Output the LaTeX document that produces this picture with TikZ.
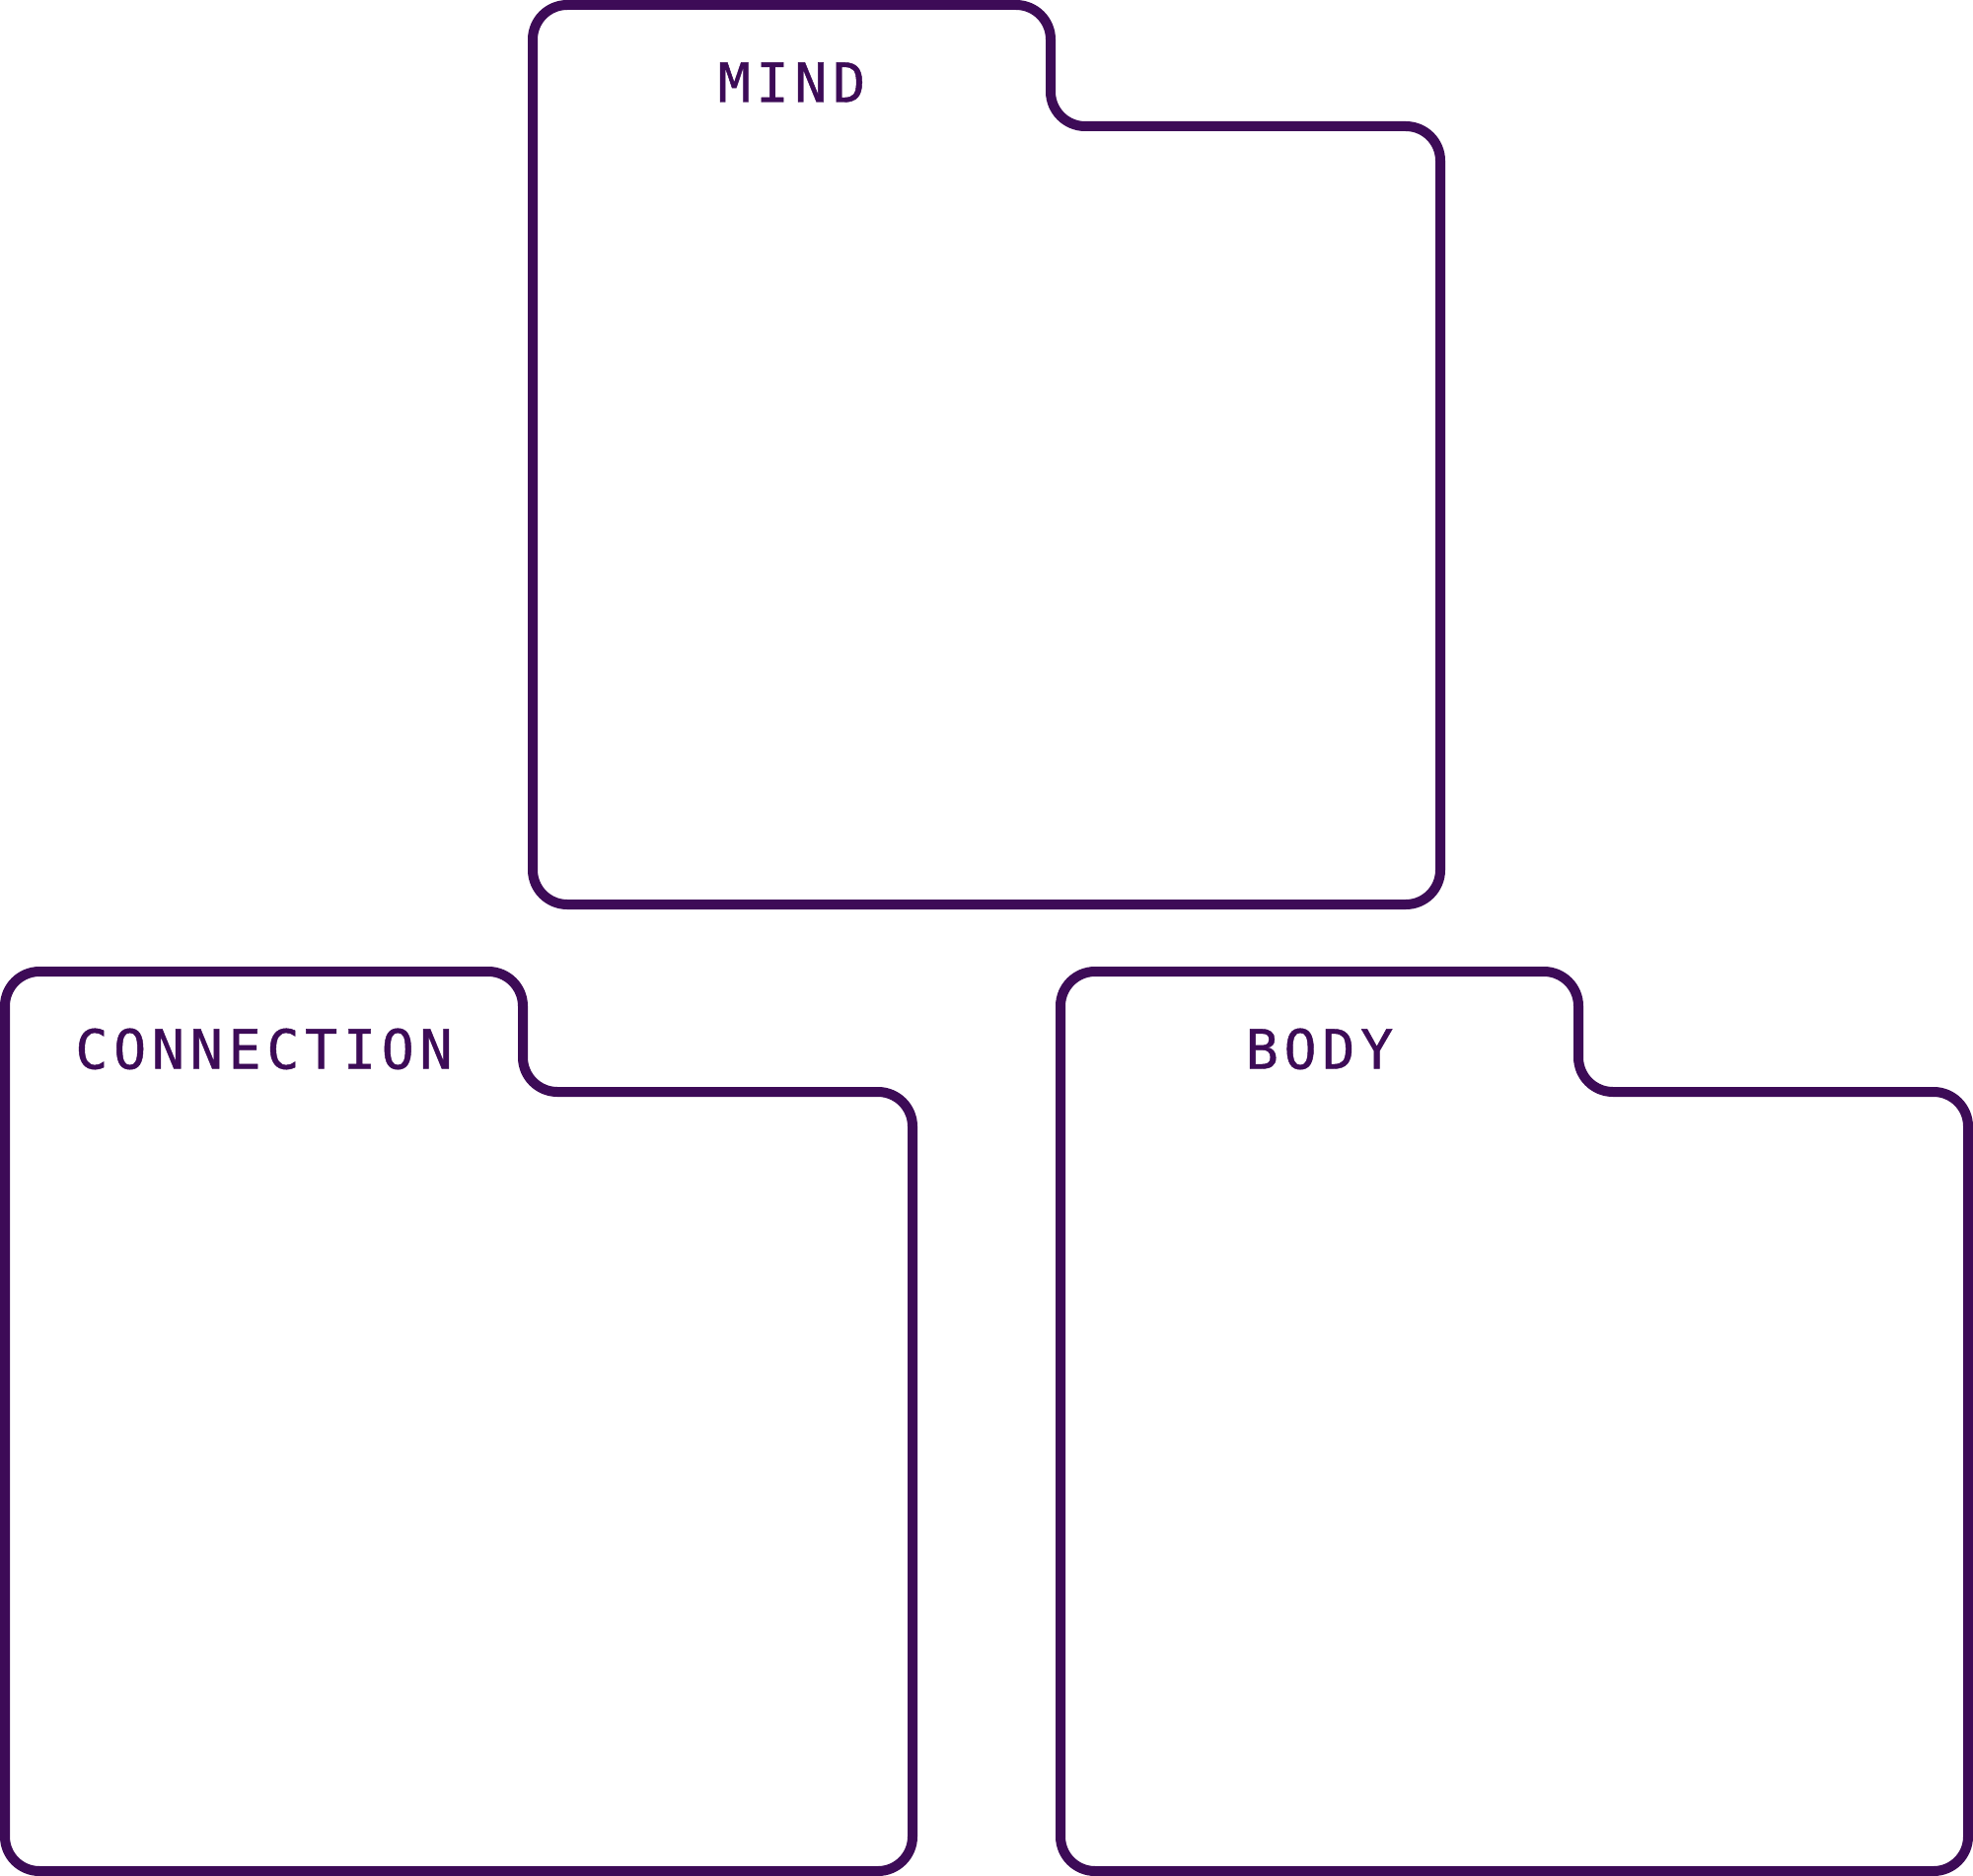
\documentclass[tikz,border=0pt]{standalone}
\usepackage{fontspec}
\newfontfamily\foldfont[FakeBold=0.8]{DejaVu Sans Mono}
\definecolor{folderpurple}{RGB}{61,11,87}
\newcommand\fldch[1]{\makebox[38.8pt]{#1}}
\begin{document}
\begin{tikzpicture}[x=1pt,y=-1pt,
  folder/.style={draw=folderpurple, line width=10pt, rounded corners=35pt, line join=round},
  foldertitle/.style={text=folderpurple, font=\foldfont\fontsize{55}{60}\selectfont, inner sep=0pt, anchor=base}]
\useasboundingbox (0,0) rectangle (2000,1902);
\fill[white] (0,0) rectangle (2000,1902);
% MIND folder
\draw[folder] (540,5) -- (1065,5) -- (1065,128) -- (1460,128) -- (1460,917) -- (540,917) -- cycle;
\node[foldertitle] (mind) at (802.5,103.5) {\fldch{M}\fldch{I}\fldch{N}\fldch{D}};
% CONNECTION folder
\draw[folder] (5,985) -- (530,985) -- (530,1107) -- (925,1107) -- (925,1897) -- (5,1897) -- cycle;
\node[foldertitle] (connection) at (267.5,1083.5) {\fldch{C}\fldch{O}\fldch{N}\fldch{N}\fldch{E}\fldch{C}\fldch{T}\fldch{I}\fldch{O}\fldch{N}};
% BODY folder
\draw[folder] (1075,985) -- (1600,985) -- (1600,1107) -- (1995,1107) -- (1995,1897) -- (1075,1897) -- cycle;
\node[foldertitle] (body) at (1337.5,1083.5) {\fldch{B}\fldch{O}\fldch{D}\fldch{Y}};
\end{tikzpicture}
\end{document}
